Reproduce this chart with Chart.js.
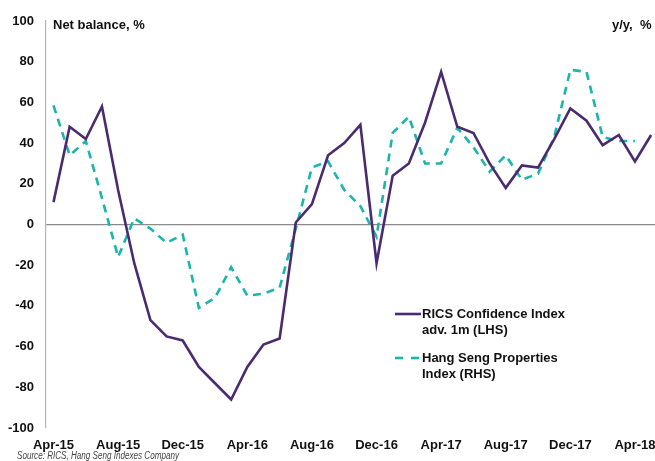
<!DOCTYPE html>
<html>
<head>
<meta charset="utf-8">
<script src="https://cdn.jsdelivr.net/npm/chart.js@4.4.1/dist/chart.umd.min.js"></script>
<style>
  html, body { margin: 0; padding: 0; background: #ffffff; overflow: hidden; }
  #wrap { width: 655px; height: 461px; position: relative; }
</style>
</head>
<body>
<div id="wrap"><canvas id="c" width="655" height="461"></canvas></div>
<script>
// ---- data ----
const months = [
  'Apr-15','May-15','Jun-15','Jul-15','Aug-15','Sep-15','Oct-15','Nov-15','Dec-15',
  'Jan-16','Feb-16','Mar-16','Apr-16','May-16','Jun-16','Jul-16','Aug-16','Sep-16','Oct-16','Nov-16','Dec-16',
  'Jan-17','Feb-17','Mar-17','Apr-17','May-17','Jun-17','Jul-17','Aug-17','Sep-17','Oct-17','Nov-17','Dec-17',
  'Jan-18','Feb-18','Mar-18','Apr-18','May-18'
];
const ricsConfidence = [
  11, 48, 42, 58, 17, -19, -47, -55, -57,
  -70, -78, -86, -70, -59, -56, 1, 10, 34, 40, 49, -19,
  24, 30, 50, 75, 48, 45, 30, 18, 29, 28, 42, 57,
  51, 39, 44, 31, 44
];
const hangSengProps = [
  58.5, 34, 41, 13, -16, 3, -2, -9, -5,
  -41, -36, -21, -35, -34, -31, -2, 28, 31, 17, 9, -6,
  45, 53, 30, 30, 47.5, 38, 26, 34, 22, 25, 43, 76,
  75, 43, 41, 41, null
];
const xTickLabels = ['Apr-15','Aug-15','Dec-15','Apr-16','Aug-16','Dec-16','Apr-17','Aug-17','Dec-17','Apr-18'];
const yTicks = [-100, -80, -60, -40, -20, 0, 20, 40, 60, 80, 100];
const seriesNames = [['RICS Confidence Index', 'adv. 1m (LHS)'], ['Hang Seng Properties', 'Index (RHS)']];
const leftTitle = 'Net balance, %';
const rightTitle = 'y/y,  %';
const sourceText = 'Source: RICS, Hang Seng Indexes Company';

const PURPLE = '#4b2b6f';
const TEAL = '#1bb5ab';
const FONT = "'Liberation Sans', Arial, sans-serif";

const toPoints = arr => arr.map((v, i) => ({ x: i, y: v }));

const overlay = {
  id: 'overlay',
  afterDraw(chart) {
    const ctx = chart.ctx;
    ctx.save();
    ctx.fillStyle = '#111';
    ctx.font = 'bold 13px ' + FONT;
    ctx.textBaseline = 'alphabetic';
    ctx.textAlign = 'left';
    ctx.fillText(leftTitle, 53, 29);
    ctx.fillText(rightTitle, 612, 29);

    // legend
    const items = [
      { color: PURPLE, dash: [], y: 314, lines: seriesNames[0] },
      { color: TEAL, dash: [8, 8], y: 358, lines: seriesNames[1] }
    ];
    items.forEach(it => {
      ctx.save();
      ctx.strokeStyle = it.color;
      ctx.lineWidth = 2.6;
      ctx.setLineDash(it.dash);
      ctx.beginPath();
      ctx.moveTo(395, it.y);
      ctx.lineTo(421, it.y);
      ctx.stroke();
      ctx.restore();
      ctx.fillStyle = '#111';
      ctx.font = 'bold 13px ' + FONT;
      ctx.textBaseline = 'middle';
      it.lines.forEach((t, k) => ctx.fillText(t, 422, it.y + k * 16));
    });

    // source
    ctx.fillStyle = '#444';
    ctx.font = 'italic 10px ' + FONT;
    ctx.textBaseline = 'alphabetic';
    ctx.fillText(sourceText, 17, 459, 162);
    ctx.restore();
  }
};

new Chart(document.getElementById('c'), {
  type: 'line',
  data: {
    datasets: [
      {
        label: seriesNames[0].join(' '),
        data: toPoints(ricsConfidence),
        borderColor: PURPLE,
        borderWidth: 2.6,
        pointRadius: 0,
        tension: 0,
        fill: false
      },
      {
        label: seriesNames[1].join(' '),
        data: toPoints(hangSengProps),
        borderColor: TEAL,
        borderWidth: 2.6,
        borderDash: [8, 6],
        pointRadius: 0,
        tension: 0,
        fill: false,
        spanGaps: false
      }
    ]
  },
  options: {
    responsive: false,
    animation: false,
    layout: { padding: { top: 21, right: 0, bottom: 0, left: 0 } },
    plugins: { legend: { display: false }, tooltip: { enabled: false } },
    scales: {
      x: {
        type: 'linear',
        min: -0.464,
        max: 37.24,
        grid: { display: false, drawTicks: false },
        border: { display: false },
        afterBuildTicks: axis => {
          axis.ticks = xTickLabels.map(l => ({ value: months.indexOf(l) }));
        },
        afterFit: s => { s.height = 33; s.paddingLeft = 0; s.paddingRight = 0; },
        ticks: {
          autoSkip: false,
          maxRotation: 0,
          minRotation: 0,
          padding: 10,
          color: '#111',
          font: { family: FONT, size: 13, weight: 'bold' },
          callback: v => months[v]
        }
      },
      y: {
        min: -100,
        max: 100,
        afterBuildTicks: axis => { axis.ticks = yTicks.map(v => ({ value: v })); },
        afterFit: s => { s.width = 46; s.paddingTop = 0; s.paddingBottom = 0; },
        grid: {
          drawTicks: false,
          color: c => (c.tick && c.tick.value === 0 ? '#8a8a8a' : 'rgba(0,0,0,0)'),
          lineWidth: 1.2
        },
        border: { display: true, color: '#b5b5b5', width: 1.2 },
        ticks: {
          padding: 12,
          color: '#111',
          font: { family: FONT, size: 13, weight: 'bold' }
        }
      }
    }
  },
  plugins: [overlay]
});
</script>
</body>
</html>
